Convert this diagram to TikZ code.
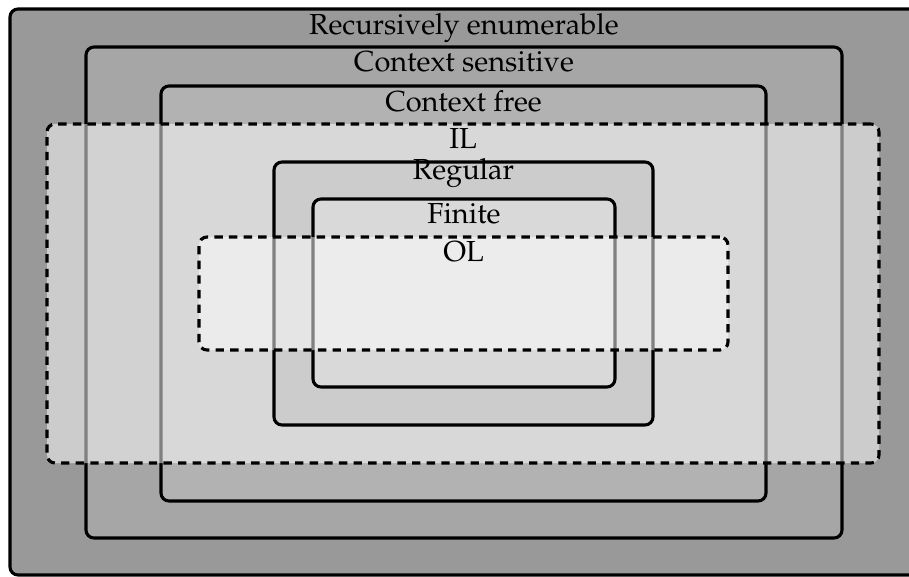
\documentclass[tikz,border=0pt]{standalone}
\usepackage[T1]{fontenc}
\usepackage{mathpazo}
\usetikzlibrary{fit}

\tikzset{
  langset/.style={draw, line width=1.1pt, rounded corners=0.1cm, inner sep=0pt},
  lightset/.style={langset, dash pattern=on 3pt off 2.2pt, fill=white, fill opacity=0.5},
  lbl/.style={anchor=north, inner sep=2pt, font=\fontsize{10.3}{12.4}\selectfont}
}

\begin{document}
\begin{tikzpicture}[x=0.0125cm, y=-0.0125cm]
    \useasboundingbox (0,0) rectangle (909,576);
    \clip (0,0) rectangle (909,576);

    % the Chomsky levels, outermost first
    \node[langset, fill=black!40, fit={(10,9) (918,575)}] (re) {};
    \node[langset, fill=black!35, fit={(86,47) (842,538)}] (cs) {};
    \node[langset, fill=black!30, fit={(161,86) (766,501)}] (cf) {};

    \node[lbl] (relbl) at (re.north) {Recursively enumerable};
    \node[lbl] (cslbl) at (cs.north) {Context sensitive};
    \node[lbl] (cflbl) at (cf.north) {Context free};

    % IL lies across them
    \node[lightset, fit={(47,124) (879,463)}] (il) {};
    \node[lbl] (illbl) at (il.north) {IL};

    \node[langset, fill=black!20, fit={(274,162) (653,425)}] (reg) {};
    \node[langset, fill=black!15, fit={(313,199) (615,387)}] (fin) {};
    \node[lbl, yshift=0.1cm] (reglbl) at (reg.north) {Regular};
    \node[lbl] (finlbl) at (fin.north) {Finite};

    % OL on top
    \node[lightset, fit={(199,237) (728,350)}] (ol) {};
    \node[lbl] (ollbl) at (ol.north) {OL};
\end{tikzpicture}
\end{document}
